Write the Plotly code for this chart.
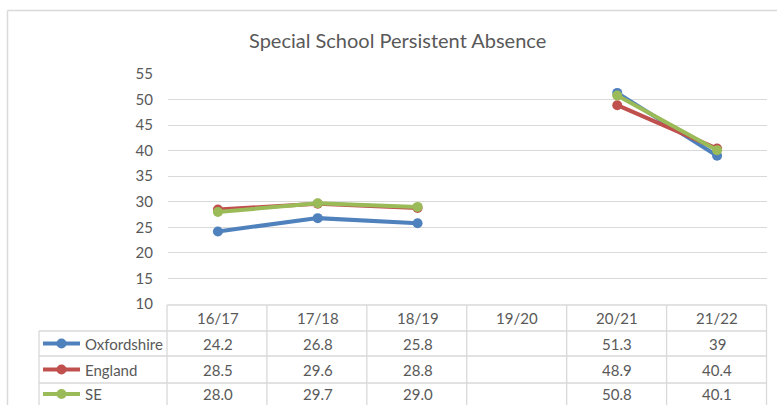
import plotly.graph_objects as go

categories = ["16/17", "17/18", "18/19", "19/20", "20/21", "21/22"]
series_names = ["Oxfordshire", "England", "SE"]
oxfordshire = [24.2, 26.8, 25.8, None, 51.3, 39]
england = [28.5, 29.6, 28.8, None, 48.9, 40.4]
se = [28.0, 29.7, 29.0, None, 50.8, 40.1]
series_values = [oxfordshire, england, se]
series_colors = ["#4F81BD", "#C0504D", "#9BBB59"]
series_decimals = [None, None, 1]  # None = general format
y_ticks = [10, 15, 20, 25, 30, 35, 40, 45, 50, 55]
title_text = "Special School Persistent Absence"

W, H = 777, 405
L, R, T, B = 168, 10, 74, 101
PW = W - L - R
PH = H - T - B
FONT = "Lato, Carlito, Calibri, sans-serif"
TXT = "#595959"
GRID = "#D9D9D9"


def px(x):
    return (x - L) / PW


def py(y):
    return (H - B - y) / PH


def fmt(v, d):
    if v is None:
        return ""
    if d is None:
        return "%g" % v
    return f"{v:.{d}f}"


fig = go.Figure()
for name, vals, col in zip(series_names, series_values, series_colors):
    fig.add_trace(go.Scatter(
        x=categories, y=vals, name=name, mode="lines+markers",
        line=dict(color=col, width=4), marker=dict(color=col, size=10),
        connectgaps=False, showlegend=False, cliponaxis=False,
    ))

shapes = []
annotations = []
line_style = dict(color=GRID, width=1.3)

# outer chart border (left and top)
shapes.append(dict(type="line", xref="paper", yref="paper", x0=px(7.5), x1=px(W + 5), y0=py(10.5), y1=py(10.5), line=dict(color=GRID, width=1.5)))
shapes.append(dict(type="line", xref="paper", yref="paper", x0=px(7.5), x1=px(7.5), y0=py(10.5), y1=py(H + 5), line=dict(color=GRID, width=1.5)))

# data table
row_edges = [305, 331, 356, 383, 409]
col_left = 167
legend_left = 39
right_edge = 766.5
ncat = len(categories)
colw = (right_edge - col_left) / ncat
shapes.append(dict(type="line", xref="paper", yref="paper", x0=px(col_left), x1=px(right_edge), y0=py(row_edges[0]), y1=py(row_edges[0]), line=line_style))
for ry in row_edges[1:4]:
    shapes.append(dict(type="line", xref="paper", yref="paper", x0=px(legend_left), x1=px(right_edge), y0=py(ry), y1=py(ry), line=line_style))
for i in range(ncat + 1):
    xx = col_left + i * colw
    shapes.append(dict(type="line", xref="paper", yref="paper", x0=px(xx), x1=px(xx), y0=py(row_edges[0]), y1=py(row_edges[-1]), line=line_style))
shapes.append(dict(type="line", xref="paper", yref="paper", x0=px(legend_left), x1=px(legend_left), y0=py(row_edges[1]), y1=py(row_edges[-1]), line=line_style))

hc = (row_edges[0] + row_edges[1]) / 2
for i, c in enumerate(categories):
    annotations.append(dict(x=i, xref="x", y=py(hc), yref="paper", text=c, showarrow=False,
                            font=dict(family=FONT, size=15, color=TXT), xanchor="center", yanchor="middle"))

for r, (name, vals, col, d) in enumerate(zip(series_names, series_values, series_colors, series_decimals)):
    cy = (row_edges[r + 1] + row_edges[r + 2]) / 2
    if r == 2:
        cy = 394
    shapes.append(dict(type="line", xref="paper", yref="paper", x0=px(43), x1=px(80), y0=py(cy), y1=py(cy), line=dict(color=col, width=4)))
    rad = 5
    shapes.append(dict(type="circle", xref="paper", yref="paper", x0=px(61.5 - rad), x1=px(61.5 + rad), y0=py(cy + rad), y1=py(cy - rad),
                       fillcolor=col, line=dict(color=col, width=0)))
    annotations.append(dict(x=px(83), xref="paper", y=py(cy), yref="paper", text=name, showarrow=False,
                            font=dict(family=FONT, size=15, color=TXT), xanchor="left", yanchor="middle"))
    for i, v in enumerate(vals):
        annotations.append(dict(x=i, xref="x", y=py(cy), yref="paper", text=fmt(v, d), showarrow=False,
                                font=dict(family=FONT, size=15, color=TXT), xanchor="center", yanchor="middle"))

annotations.append(dict(x=px(397), xref="paper", y=py(40), yref="paper", text=title_text, showarrow=False,
                        font=dict(family=FONT, size=20, color=TXT), xanchor="center", yanchor="middle"))

fig.update_layout(
    width=W, height=H, margin=dict(l=L, r=R, t=T, b=B, pad=0),
    paper_bgcolor="white", plot_bgcolor="white",
    shapes=shapes, annotations=annotations,
    xaxis=dict(type="category", range=[-0.5, ncat - 0.5], showticklabels=False, showgrid=False,
               zeroline=False, showline=False, ticks=""),
    yaxis=dict(range=[10, 55], tickvals=y_ticks, showgrid=True, gridcolor=GRID, gridwidth=1.3,
               zeroline=False, showline=False, ticks="", ticklabelstandoff=14,
               tickfont=dict(family=FONT, size=15, color=TXT)),
)

fig.write_html("out.html", config={"displayModeBar": False},
               post_script="document.body.style.margin='0';document.body.style.overflow='hidden';")
